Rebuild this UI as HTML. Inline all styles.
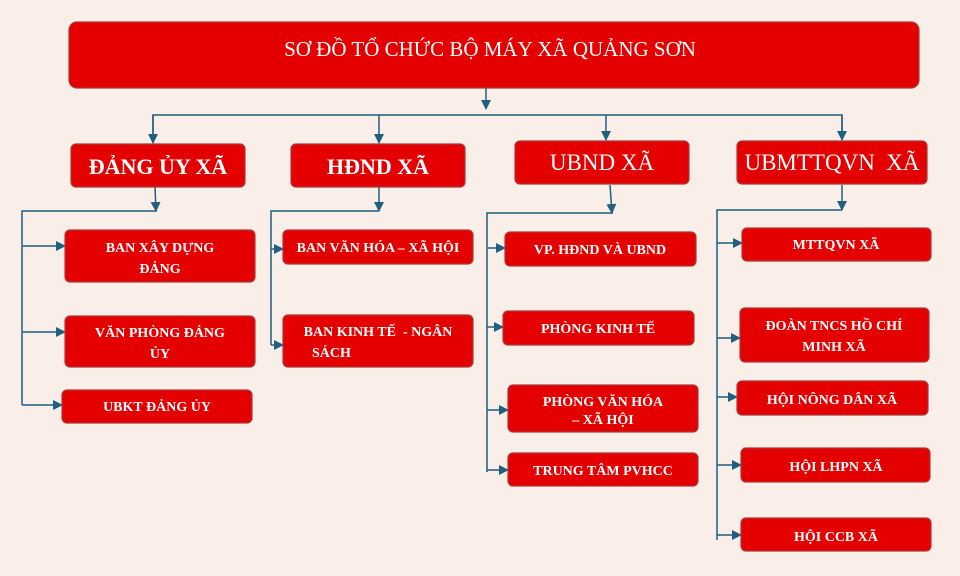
<!DOCTYPE html>
<html><head><meta charset="utf-8"><style>
html,body{margin:0;padding:0;background:#f9efe8;}
svg{display:block}
text{font-family:"Liberation Serif",serif;fill:#fff;text-anchor:middle}
.b{font-weight:bold;font-size:14px}
</style></head><body>
<svg width="960" height="576" viewBox="0 0 960 576">
<defs><marker id="a" markerWidth="10" markerHeight="10" refX="9" refY="5" orient="auto" markerUnits="userSpaceOnUse"><path d="M0,0 L10,5 L0,10z" fill="#1f5f7f"/></marker></defs>
<rect width="960" height="576" fill="#f9efe8"/>
<g stroke="#1f5f7f" stroke-width="1.5" fill="none">
<line x1="486" y1="88" x2="486" y2="109" marker-end="url(#a)"/>
<polyline points="153,141 153,115 842,115 842,139"/>
<line x1="153" y1="115" x2="153" y2="143" marker-end="url(#a)"/>
<line x1="379" y1="115" x2="379" y2="143" marker-end="url(#a)"/>
<line x1="606" y1="115" x2="606" y2="140" marker-end="url(#a)"/>
<line x1="842" y1="115" x2="842" y2="140" marker-end="url(#a)"/>
<line x1="155" y1="187" x2="156" y2="211" marker-end="url(#a)"/>
<polyline points="157,211 22,211 22,405"/>
<line x1="22" y1="246" x2="65" y2="246" marker-end="url(#a)"/>
<line x1="22" y1="332" x2="65" y2="332" marker-end="url(#a)"/>
<line x1="22" y1="405" x2="62" y2="405" marker-end="url(#a)"/>
<line x1="379" y1="187" x2="379" y2="211" marker-end="url(#a)"/>
<polyline points="379,211 271,211 271,345"/>
<line x1="271" y1="249" x2="283" y2="249" marker-end="url(#a)"/>
<line x1="271" y1="345" x2="283" y2="345" marker-end="url(#a)"/>
<line x1="610" y1="185" x2="612" y2="213" marker-end="url(#a)"/>
<polyline points="613,213 487,213 487,472"/>
<line x1="487" y1="248" x2="505" y2="248" marker-end="url(#a)"/>
<line x1="487" y1="327" x2="503" y2="327" marker-end="url(#a)"/>
<line x1="487" y1="410" x2="508" y2="410" marker-end="url(#a)"/>
<line x1="487" y1="470" x2="508" y2="470" marker-end="url(#a)"/>
<line x1="842" y1="185" x2="842" y2="210" marker-end="url(#a)"/>
<polyline points="842,210 717,210 717,540"/>
<line x1="717" y1="243" x2="742" y2="243" marker-end="url(#a)"/>
<line x1="717" y1="338" x2="740" y2="338" marker-end="url(#a)"/>
<line x1="717" y1="397" x2="737" y2="397" marker-end="url(#a)"/>
<line x1="717" y1="465" x2="741" y2="465" marker-end="url(#a)"/>
<line x1="717" y1="535" x2="741" y2="535" marker-end="url(#a)"/>
</g>
<g fill="#e40000" stroke="#a83a3a" stroke-width="1.2">
<rect x="69" y="22" width="850" height="66" rx="8"/>
<rect x="71" y="144" width="174" height="43" rx="5"/>
<rect x="291" y="144" width="174" height="43" rx="5"/>
<rect x="515" y="141" width="174" height="43" rx="5"/>
<rect x="737" y="141" width="190" height="43" rx="5"/>
<rect x="65" y="230" width="190" height="52" rx="5"/>
<rect x="65" y="316" width="190" height="51" rx="5"/>
<rect x="62" y="390" width="190" height="33" rx="5"/>
<rect x="283" y="230" width="190" height="34" rx="5"/>
<rect x="283" y="315" width="190" height="52" rx="5"/>
<rect x="505" y="232" width="191" height="34" rx="5"/>
<rect x="503" y="311" width="191" height="34" rx="5"/>
<rect x="508" y="385" width="190" height="47" rx="5"/>
<rect x="508" y="453" width="190" height="33" rx="5"/>
<rect x="742" y="228" width="189" height="33" rx="5"/>
<rect x="740" y="308" width="189" height="54" rx="5"/>
<rect x="737" y="381" width="191" height="34" rx="5"/>
<rect x="741" y="448" width="189" height="34" rx="5"/>
<rect x="741" y="518" width="190" height="33" rx="5"/>
</g>
<text x="490" y="56" font-size="21">SƠ ĐỒ TỔ CHỨC BỘ MÁY XÃ QUẢNG SƠN</text>
<text x="158" y="174" font-size="22" font-weight="bold">ĐẢNG ỦY XÃ</text>
<text x="378" y="174" font-size="22" font-weight="bold">HĐND XÃ</text>
<text x="602" y="170" font-size="23">UBND XÃ</text>
<text x="832" y="170" font-size="23">UBMTTQVN&#160; XÃ</text>
<text class="b" x="160" y="252">BAN XÂY DỰNG</text>
<text class="b" x="160" y="273">ĐẢNG</text>
<text class="b" x="160" y="337">VĂN PHÒNG ĐẢNG</text>
<text class="b" x="160" y="358">ỦY</text>
<text class="b" x="157" y="411">UBKT ĐẢNG ỦY</text>
<text class="b" x="378" y="252">BAN VĂN HÓA – XÃ HỘI</text>
<text class="b" x="378" y="336">BAN KINH TẾ&#160; - NGÂN</text>
<text class="b" x="312" y="357" style="text-anchor:start">SÁCH</text>
<text class="b" x="600" y="254">VP. HĐND VÀ UBND</text>
<text class="b" x="598" y="333">PHÒNG KINH TẾ</text>
<text class="b" x="603" y="406">PHÒNG VĂN HÓA</text>
<text class="b" x="603" y="424">– XÃ HỘI</text>
<text class="b" x="603" y="475">TRUNG TÂM PVHCC</text>
<text class="b" x="836" y="249">MTTQVN XÃ</text>
<text class="b" x="834" y="330">ĐOÀN TNCS HỒ CHÍ</text>
<text class="b" x="834" y="351">MINH XÃ</text>
<text class="b" x="832" y="404">HỘI NÔNG DÂN XÃ</text>
<text class="b" x="836" y="471">HỘI LHPN XÃ</text>
<text class="b" x="836" y="541">HỘI CCB XÃ</text>
</svg>
</body></html>
